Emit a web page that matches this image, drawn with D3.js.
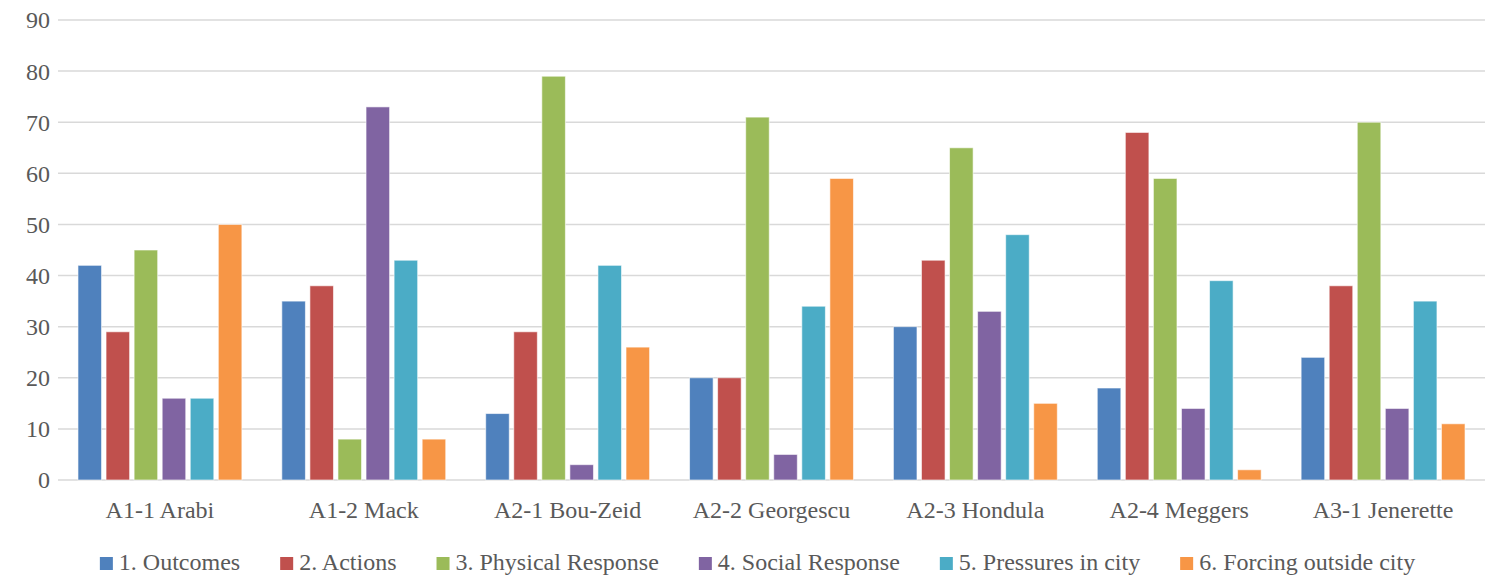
<!DOCTYPE html>
<html><head><meta charset="utf-8">
<script src="https://cdn.jsdelivr.net/npm/d3@7"></script>
<style>body{margin:0;background:#fff}text{font-family:"Liberation Serif",serif;fill:#595959}</style>
</head><body><svg id="c" width="1493" height="576"></svg>
<script>
const categories = ["A1-1 Arabi","A1-2 Mack","A2-1 Bou-Zeid","A2-2 Georgescu","A2-3 Hondula","A2-4 Meggers","A3-1 Jenerette"];
const seriesNames = ["1. Outcomes","2. Actions","3. Physical Response","4. Social Response","5. Pressures in city","6. Forcing outside city"];
const outcomes = [42,35,13,20,30,18,24];
const actions = [29,38,29,20,43,68,38];
const physical = [45,8,79,71,65,59,70];
const social = [16,73,3,5,33,14,14];
const pressures = [16,43,42,34,48,39,35];
const forcing = [50,8,26,59,15,2,11];
const yTicks = [0,10,20,30,40,50,60,70,80,90];
const colors = ["#4F81BD","#C0504D","#9BBB59","#8064A2","#4BACC6","#F79646"];
const series = [outcomes,actions,physical,social,pressures,forcing];

const svg = d3.select("#c");
const L=58,R=1485,T=20,B=480;
const FS=24;
const x = d3.scaleBand().domain(categories).range([L,R]).paddingInner(0.196).paddingOuter(0.098);
const xs = d3.scaleBand().domain(d3.range(6)).range([0,x.bandwidth()]).paddingInner(0.16);
const y = d3.scaleLinear().domain([0,90]).range([B,T]);

svg.append("g").selectAll("line").data(yTicks).join("line")
 .attr("x1",L).attr("x2",R).attr("y1",d=>y(d)).attr("y2",d=>y(d))
 .attr("stroke","#D9D9D9").attr("stroke-width",1.5);
svg.append("g").selectAll("text").data(yTicks).join("text")
 .attr("x",50).attr("y",d=>y(d)).attr("dy","0.35em").attr("text-anchor","end")
 .attr("font-size",FS).text(d=>d);

const g = svg.append("g");
categories.forEach((c,i)=>{
  series.forEach((s,j)=>{
    g.append("rect").attr("x",x(c)+xs(j)).attr("width",xs.bandwidth())
     .attr("y",y(s[i])).attr("height",y(0)-y(s[i]))
     .attr("fill",colors[j]).attr("stroke","#ffffff").attr("stroke-opacity",0.6).attr("stroke-width",1);
  });
});
svg.append("g").selectAll("text").data(categories).join("text")
 .attr("x",d=>x(d)+x.bandwidth()/2).attr("y",518)
 .attr("text-anchor","middle")
 .attr("font-size",FS).text(d=>d);

const lg = svg.append("g");
let cx=0; const GAP=40;
seriesNames.forEach((n,j)=>{
  const it = lg.append("g");
  it.append("rect").attr("x",0).attr("y",-13).attr("width",13).attr("height",13).attr("fill",colors[j]);
  const t = it.append("text").attr("x",19).attr("y",0).attr("font-size",FS).text(n);
  const w = 19 + t.node().getComputedTextLength();
  it.attr("transform",`translate(${cx},570)`);
  cx += w + GAP;
});
const total = cx-GAP;
lg.attr("transform",`translate(${757.5 - total/2},0)`);
</script></body></html>
